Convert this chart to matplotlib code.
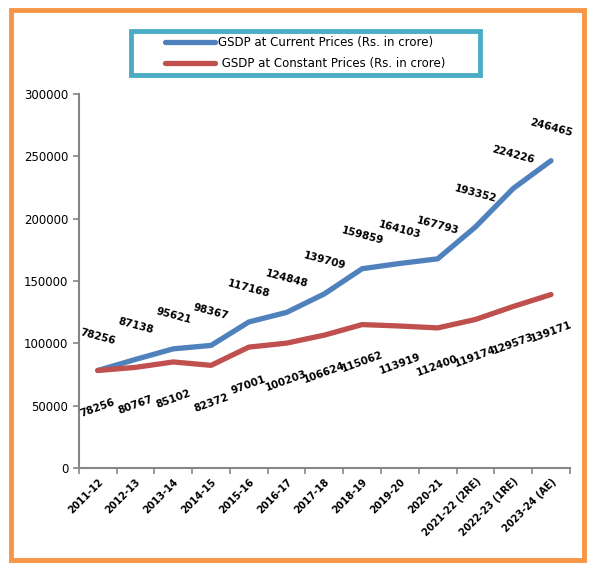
import numpy as np
import matplotlib.pyplot as plt
from matplotlib.patches import Rectangle

years = ['2011-12', '2012-13', '2013-14', '2014-15', '2015-16', '2016-17', '2017-18',
         '2018-19', '2019-20', '2020-21', '2021-22 (2RE)', '2022-23 (1RE)', '2023-24 (AE)']
current = [78256, 87138, 95621, 98367, 117168, 124848, 139709,
           159859, 164103, 167793, 193352, 224226, 246465]
constant = [78256, 80767, 85102, 82372, 97001, 100203, 106624,
            115062, 113919, 112400, 119174, 129573, 139171]

fig = plt.figure(figsize=(5.93, 5.66), dpi=100)
ax = fig.add_axes([0.133, 0.173, 0.828, 0.661])

x = np.arange(len(years))
ax.plot(x, current, color='#4F81BD', lw=3.8, solid_capstyle='round',
        label='GSDP at Current Prices (Rs. in crore)')
ax.plot(x, constant, color='#C0504D', lw=3.8, solid_capstyle='round',
        label=' GSDP at Constant Prices (Rs. in crore)')

# data labels
for i, v in enumerate(current):
    ax.annotate(str(v), (i, v), xytext=(0, 24), textcoords='offset points',
                ha='center', va='center', rotation=-15, fontsize=7.5,
                fontweight='bold')
for i, v in enumerate(constant):
    ax.annotate(str(v), (i, v), xytext=(0, -27), textcoords='offset points',
                ha='center', va='center', rotation=20, fontsize=7.5,
                fontweight='bold')

ax.set_xlim(-0.5, len(years) - 0.5)
ax.set_ylim(0, 300000)
ax.set_yticks(np.arange(0, 300001, 50000))
ax.set_xticks(x)
ax.set_xticklabels(years, rotation=45, ha='right', rotation_mode='anchor',
                   fontsize=7, fontweight='bold')
ax.set_xticks(np.arange(-0.5, len(years)), minor=True)
ax.tick_params(axis='x', which='major', length=0, pad=6)
ax.tick_params(axis='x', which='minor', length=4, color='#868686', width=1.2)
ax.tick_params(axis='y', length=4, color='#868686', width=1.2, labelsize=8.5)

for s in ['top', 'right']:
    ax.spines[s].set_visible(False)
for s in ['left', 'bottom']:
    ax.spines[s].set_color('#868686')
    ax.spines[s].set_linewidth(1.5)

leg = fig.legend(loc='center', bbox_to_anchor=(0.515, 0.906), fontsize=8.5,
                 handlelength=4.2, handletextpad=0.3, frameon=False,
                 labelspacing=0.7)

# legend box
fig.patches.append(Rectangle((0.221, 0.867), 0.588, 0.078, transform=fig.transFigure,
                             fill=False, edgecolor='#4BACC6', lw=3.5))
# orange outer border
fig.patches.append(Rectangle((0.019, 0.01), 0.966, 0.972, transform=fig.transFigure,
                             fill=False, edgecolor='#F79646', lw=3.5))

fig.savefig('out.png', dpi=100)
